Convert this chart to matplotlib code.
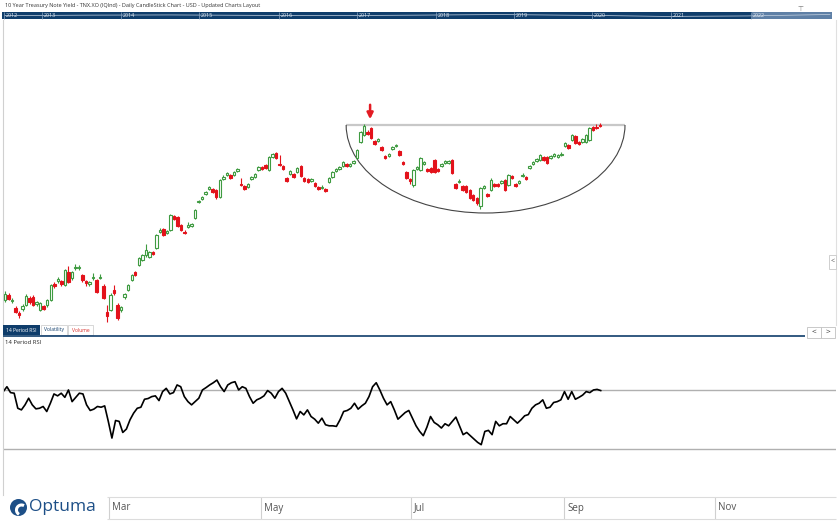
import numpy as np
import matplotlib
matplotlib.use("Agg")
import matplotlib.pyplot as plt
from matplotlib.patches import Rectangle, Arc, Circle

plt.rcParams['font.family'] = ['Open Sans', 'DejaVu Sans']

# Daily candles (yield, %)
opens = [1.75, 1.80, 1.74, 1.67, 1.62, 1.66, 1.70, 1.77, 1.78, 1.71, 1.65, 1.69, 1.70, 1.75, 1.91, 1.94, 1.94, 1.90, 2.03, 1.97,
         2.07, 2.07, 2.00, 1.94, 1.91, 1.97, 1.95, 1.97, 1.89, 1.63, 1.65, 1.85, 1.70, 1.65, 1.78, 1.85, 1.95, 2.03, 2.10, 2.15,
         2.20, 2.18, 2.23, 2.27, 2.43, 2.46, 2.42, 2.45, 2.59, 2.58, 2.50, 2.43, 2.48, 2.49, 2.57, 2.73, 2.76, 2.81, 2.86, 2.86,
         2.85, 2.78, 2.96, 3.00, 3.00, 3.00, 3.04, 2.91, 2.89, 2.88, 2.96, 2.98, 3.05, 3.08, 3.10, 3.05, 3.18, 3.22, 3.11, 3.09,
         2.97, 3.01, 3.01, 3.03, 3.09, 2.97, 2.96, 2.94, 2.92, 2.88, 2.87, 2.86, 2.93, 2.98, 3.04, 3.06, 3.09, 3.11, 3.09, 3.12,
         3.17, 3.33, 3.40, 3.43, 3.47, 3.34, 3.34, 3.28, 3.19, 3.19, 3.26, 3.29, 3.24, 3.13, 3.03, 2.96, 2.90, 3.06, 3.05, 3.11,
         3.06, 3.07, 3.15, 3.06, 3.09, 3.12, 3.12, 3.15, 2.91, 2.93, 2.89, 2.89, 2.85, 2.80, 2.77, 2.69, 2.87, 2.81, 2.85, 2.91,
         2.91, 2.92, 2.95, 2.90, 2.99, 2.91, 2.92, 2.99, 2.98, 3.07, 3.11, 3.14, 3.15, 3.18, 3.18, 3.17, 3.19, 3.18, 3.20, 3.29,
         3.30, 3.35, 3.39, 3.33, 3.33, 3.33, 3.35, 3.48, 3.48, 3.50]
closes = [1.81, 1.76, 1.75, 1.63, 1.60, 1.69, 1.79, 1.73, 1.70, 1.73, 1.72, 1.66, 1.75, 1.90, 1.89, 1.96, 1.91, 2.05, 1.93, 2.03,
          2.08, 2.08, 1.95, 1.92, 1.93, 1.98, 1.83, 1.98, 1.77, 1.59, 1.80, 1.82, 1.57, 1.68, 1.81, 1.90, 2.00, 2.00, 2.17, 2.20,
          2.25, 2.23, 2.21, 2.40, 2.45, 2.40, 2.44, 2.60, 2.56, 2.49, 2.45, 2.42, 2.50, 2.51, 2.65, 2.74, 2.78, 2.83, 2.88, 2.83,
          2.78, 2.95, 2.98, 3.02, 2.97, 3.03, 3.06, 2.90, 2.86, 2.91, 2.98, 3.01, 3.08, 3.06, 3.07, 3.18, 3.21, 3.17, 3.10, 3.06,
          2.94, 3.04, 2.98, 3.07, 2.99, 2.94, 2.93, 2.96, 2.89, 2.86, 2.88, 2.84, 2.97, 3.03, 3.06, 3.08, 3.13, 3.09, 3.11, 3.14,
          3.25, 3.43, 3.49, 3.41, 3.37, 3.31, 3.36, 3.25, 3.17, 3.21, 3.28, 3.30, 3.20, 3.11, 2.97, 2.94, 3.05, 3.08, 3.17, 3.13,
          3.04, 3.03, 3.03, 3.04, 3.11, 3.14, 3.14, 3.02, 2.87, 2.94, 2.85, 2.83, 2.77, 2.75, 2.72, 2.87, 2.89, 2.79, 2.95, 2.89,
          2.89, 2.94, 2.85, 3.00, 2.97, 2.89, 2.94, 3.00, 2.96, 3.09, 3.13, 3.16, 3.20, 3.15, 3.12, 3.19, 3.21, 3.20, 3.21, 3.32,
          3.27, 3.40, 3.32, 3.31, 3.36, 3.40, 3.47, 3.45, 3.47, 3.49]
highs = [1.84, 1.82, 1.77, 1.69, 1.64, 1.71, 1.81, 1.79, 1.80, 1.74, 1.73, 1.70, 1.76, 1.91, 1.93, 1.98, 1.95, 2.06, 2.09, 2.04,
         2.11, 2.10, 2.01, 1.95, 1.94, 2.02, 1.96, 2.01, 1.91, 1.70, 1.82, 1.90, 1.72, 1.69, 1.82, 1.91, 2.01, 2.04, 2.18, 2.21,
         2.31, 2.24, 2.24, 2.41, 2.47, 2.47, 2.45, 2.61, 2.60, 2.59, 2.51, 2.45, 2.53, 2.52, 2.66, 2.75, 2.79, 2.84, 2.89, 2.87,
         2.86, 2.96, 3.00, 3.03, 3.01, 3.04, 3.07, 2.97, 2.90, 2.92, 2.99, 3.02, 3.09, 3.09, 3.11, 3.19, 3.22, 3.23, 3.20, 3.10,
         2.98, 3.05, 3.02, 3.08, 3.10, 2.98, 2.97, 2.97, 2.93, 2.89, 2.90, 2.87, 2.98, 3.04, 3.07, 3.09, 3.14, 3.12, 3.12, 3.15,
         3.26, 3.44, 3.51, 3.45, 3.48, 3.35, 3.37, 3.29, 3.20, 3.22, 3.29, 3.31, 3.25, 3.14, 3.04, 2.97, 3.06, 3.09, 3.18, 3.14,
         3.07, 3.08, 3.16, 3.07, 3.12, 3.15, 3.15, 3.16, 2.92, 2.96, 2.90, 2.90, 2.86, 2.81, 2.78, 2.88, 2.90, 2.82, 2.97, 2.92,
         2.92, 2.95, 2.96, 3.01, 3.00, 2.92, 2.95, 3.02, 2.99, 3.10, 3.14, 3.17, 3.21, 3.19, 3.19, 3.20, 3.22, 3.21, 3.23, 3.33,
         3.31, 3.41, 3.40, 3.34, 3.37, 3.41, 3.48, 3.49, 3.51, 3.52]
lows = [1.73, 1.75, 1.72, 1.62, 1.57, 1.64, 1.69, 1.71, 1.69, 1.69, 1.64, 1.65, 1.68, 1.74, 1.87, 1.92, 1.89, 1.89, 1.92, 1.95,
        2.05, 2.05, 1.93, 1.89, 1.89, 1.95, 1.82, 1.96, 1.76, 1.53, 1.64, 1.80, 1.55, 1.63, 1.76, 1.84, 1.94, 1.99, 2.09, 2.14,
        2.18, 2.17, 2.20, 2.26, 2.42, 2.39, 2.41, 2.44, 2.55, 2.48, 2.44, 2.41, 2.47, 2.48, 2.56, 2.72, 2.75, 2.80, 2.85, 2.82,
        2.76, 2.77, 2.95, 2.99, 2.96, 2.99, 3.03, 2.89, 2.85, 2.87, 2.95, 2.97, 3.04, 3.05, 3.06, 3.04, 3.17, 3.16, 3.09, 3.05,
        2.93, 3.00, 2.97, 3.02, 2.98, 2.93, 2.92, 2.93, 2.88, 2.85, 2.86, 2.83, 2.92, 2.97, 3.03, 3.05, 3.08, 3.08, 3.08, 3.11,
        3.16, 3.32, 3.39, 3.40, 3.36, 3.30, 3.33, 3.24, 3.16, 3.18, 3.25, 3.28, 3.19, 3.10, 2.96, 2.91, 2.88, 3.05, 3.04, 3.10,
        3.03, 3.02, 3.02, 3.03, 3.08, 3.11, 3.11, 3.01, 2.86, 2.92, 2.84, 2.82, 2.76, 2.74, 2.70, 2.66, 2.86, 2.78, 2.84, 2.88,
        2.88, 2.91, 2.84, 2.89, 2.96, 2.88, 2.91, 2.98, 2.95, 3.06, 3.10, 3.13, 3.14, 3.14, 3.11, 3.16, 3.18, 3.17, 3.19, 3.28,
        3.26, 3.34, 3.31, 3.30, 3.32, 3.32, 3.34, 3.44, 3.46, 3.48]

# 14 period RSI
rsi = [68.9, 72.2, 68.2, 67.8, 57.6, 56.5, 59.9, 64.4, 59.9, 57.2, 57.6, 58.8, 55.4, 61.0, 67.3, 66.0, 67.8, 65.0, 70.0, 62.1,
       65.0, 67.8, 67.3, 59.9, 56.1, 57.0, 58.8, 58.3, 59.2, 48.7, 37.4, 49.3, 48.7, 41.2, 43.5, 49.8, 54.3, 57.6, 58.3, 63.7,
       64.2, 65.5, 66.0, 62.8, 68.9, 71.1, 67.3, 68.2, 73.4, 72.2, 65.5, 62.1, 59.9, 62.1, 64.4, 70.0, 71.6, 73.4, 74.9, 76.7,
       72.2, 68.9, 73.4, 74.9, 75.6, 70.0, 72.2, 71.1, 65.5, 61.0, 63.3, 64.4, 66.0, 69.6, 67.8, 64.4, 68.9, 71.1, 67.8, 62.1,
       56.5, 50.4, 55.4, 53.1, 56.5, 52.0, 50.2, 47.5, 50.9, 46.4, 45.7, 45.7, 45.3, 49.8, 55.4, 56.1, 57.6, 61.0, 57.0, 59.2,
       61.0, 65.5, 72.2, 74.9, 70.0, 64.4, 59.9, 62.1, 56.5, 50.2, 52.5, 54.7, 56.1, 50.9, 45.7, 41.9, 39.0, 44.8, 52.0, 48.0,
       46.4, 44.2, 47.1, 45.7, 48.7, 51.6, 45.7, 39.7, 41.2, 39.0, 36.7, 34.5, 32.9, 41.9, 42.6, 39.7, 48.7, 45.7, 47.1, 47.1,
       52.0, 49.8, 47.5, 49.8, 52.5, 53.3, 57.6, 59.9, 61.0, 63.3, 57.6, 58.3, 61.5, 62.1, 63.3, 68.9, 63.7, 68.9, 63.7, 65.0,
       66.5, 68.9, 68.2, 70.0, 70.4, 69.6]

months = ["Mar", "May", "Jul", "Sep", "Nov"]
month_starts = [29.5, 72.7, 115.3, 158.8, 201.7]   # in bar units

years = ["2012", "2013", "2014", "2015", "2016", "2017", "2018", "2019", "2020", "2021", "2022"]
year_avg = [1.8, 2.3, 2.5, 2.1, 1.8, 2.3, 2.9, 2.1, 0.9, 1.4, 3.0]

resistance = 3.50
arrow_bar = 103.7

W, H = 840, 522
NAVY = '#0f3d6b'
GREEN = '#3f9b41'
RED = '#e3121b'


def box(x0, y0, x1, y1):
    return [x0 / W, 1 - y1 / H, (x1 - x0) / W, (y1 - y0) / H]


fig = plt.figure(figsize=(W / 100, H / 100), dpi=100)

# bar spacing in pixels, first candle at x=5
n = len(closes)
step = 595 / (n - 1)
xl = ((3 - 5) / step, (836 - 5) / step)

# ---- price panel
ax = fig.add_axes(box(3, 20, 836, 325))
x = np.arange(n)
o = np.array(opens)
c = np.array(closes)
up = c >= o
faces = np.where(up, 'white', RED)
edges = np.where(up, GREEN, RED)
ax.vlines(x, lows, highs, colors=edges, lw=0.8, zorder=2)
ax.bar(x, np.maximum(np.abs(c - o), 0.008), bottom=np.minimum(o, c), width=0.7,
       color=faces, edgecolor=edges, linewidth=0.8, zorder=3)

# cup outline and resistance line
ax.hlines(resistance, 96.9, 176.1, color='#c8c8c8', lw=1.6, zorder=1)
ax.add_patch(Arc((136.5, resistance), 79.2, 1.76, theta1=180, theta2=360,
                 color='#444444', lw=0.8, zorder=1))
ax.annotate('', xy=(arrow_bar, 3.53), xytext=(arrow_bar, 3.73),
            arrowprops=dict(arrowstyle='-|>', color='#e31b23', lw=1.8, mutation_scale=9))

ax.set_xlim(*xl)
ax.set_ylim(1.50, 4.55)
ax.set_xticks([])
ax.set_yticks([])
for s in ['top', 'bottom']:
    ax.spines[s].set_visible(False)
ax.spines['left'].set_color('#d0d0d0')
ax.spines['right'].set_color('#e0e0e0')

# ---- RSI panel
ax2 = fig.add_axes(box(3, 337, 836, 495))
m = len(rsi)
step_r = 597.4 / (m - 1)
ax2.axhline(70, color='#b0b0b0', lw=1)
ax2.axhline(30, color='#b0b0b0', lw=1)
ax2.plot(np.arange(m), rsi, color='black', lw=1.2)
ax2.set_xlim((3 - 3.3) / step_r, (836 - 3.3) / step_r)
ax2.set_ylim(-1.2, 105.9)
ax2.set_xticks([])
ax2.set_yticks([])
for s in ['top', 'bottom', 'right']:
    ax2.spines[s].set_visible(False)
ax2.spines['left'].set_color('#d0d0d0')

# ---- date axis
ax3 = fig.add_axes(box(3, 497, 836, 519))
ax3.set_xlim(*xl)
ax3.set_ylim(0, 1)
ax3.axis('off')
ax3.vlines(month_starts, 0, 1, color='#d0d0d0', lw=0.8)
for mp, lab in zip(month_starts, months):
    ax3.text(mp + 0.9, 0.5, lab, fontsize=7, color='#555555', va='center', ha='left')

# ---- overlay decorations (pixel coords)
ov = fig.add_axes([0, 0, 1, 1])
ov.set_xlim(0, W)
ov.set_ylim(H, 0)
ov.axis('off')

ov.text(5, 5.5, "10 Year Treasury Note Yield - TNX.XO (IQInd) - Daily CandleStick Chart - USD - Updated Charts Layout",
        fontsize=3.95, color='#333333', va='center', ha='left')
ov.text(800, 5, "\u22a5", fontsize=5, color='#777777', va='center', ha='center', rotation=180)

# overview strip
ov.add_patch(Rectangle((2, 12), 750, 7, color=NAVY, lw=0))
ov.add_patch(Rectangle((752, 12), 80, 7, color='#5f80a6', lw=0))
yx = np.linspace(5, 830, len(year_avg))
ov.plot(yx, 17.2 - np.array(year_avg) * 0.9, color='#c6d3e2', lw=0.5)
year_px = [5, 43, 122, 200, 280, 358, 437, 515, 593, 672, 752]
for xp, lab in zip(year_px, years):
    ov.vlines(xp - 1, 12, 19, color='#8ca6c4', lw=0.5)
    ov.text(xp + 1, 15.7, lab, fontsize=3.9, color='#e8eef5', va='center', ha='left')

# right side arrow button
ov.add_patch(Rectangle((829, 255), 7, 14, facecolor='white', edgecolor='#c8c8c8', lw=0.6))
ov.text(832.5, 261.5, "<", fontsize=5, color='#555555', va='center', ha='center')

# tabs
ov.add_patch(Rectangle((3, 325), 37, 10, color=NAVY, lw=0))
ov.text(21.5, 330, "14 Period RSI", fontsize=3.6, color='white', va='center', ha='center')
ov.add_patch(Rectangle((41, 325), 26, 10, facecolor='white', edgecolor='#c8c8c8', lw=0.5))
ov.text(54, 330, "Volatility", fontsize=3.6, color=NAVY, va='center', ha='center')
ov.add_patch(Rectangle((68, 325), 25, 10, facecolor='white', edgecolor='#c8c8c8', lw=0.5))
ov.text(80.5, 330, "Volume", fontsize=3.6, color='#d9302c', va='center', ha='center')
ov.hlines(336, 3, 805, color=NAVY, lw=1.2)
ov.add_patch(Rectangle((807, 327), 14, 11, facecolor='white', edgecolor='#c0c0c0', lw=0.6))
ov.add_patch(Rectangle((821, 327), 14, 11, facecolor='white', edgecolor='#c0c0c0', lw=0.6))
ov.text(814, 332.5, "<", fontsize=6, color='#333333', va='center', ha='center')
ov.text(828, 332.5, ">", fontsize=6, color='#333333', va='center', ha='center')
ov.text(5, 343, "14 Period RSI", fontsize=4.2, color='#222222', va='center', ha='left')

# date axis frame
ov.hlines([497, 519], 107, 836, color='#dcdcdc', lw=0.8)

# logo
ov.add_patch(Circle((18.5, 507.5), 8.5, color='#1d4f87', lw=0))
ov.add_patch(Arc((21.5, 510), 10, 10, theta1=120, theta2=300, color='white', lw=2.2))
ov.text(28.5, 507, "Optuma", fontsize=12.5, color='#1d4f87', va='center', ha='left')

plt.savefig("out.png", dpi=100)
